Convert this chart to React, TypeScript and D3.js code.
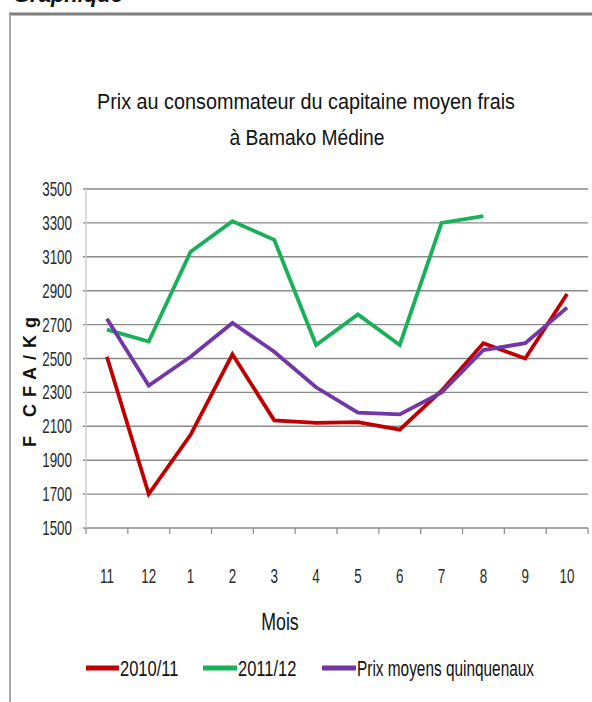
import React from "react";
import * as d3 from "d3";

const months = ["11", "12", "1", "2", "3", "4", "5", "6", "7", "8", "9", "10"];
const yTicks = [1500, 1700, 1900, 2100, 2300, 2500, 2700, 2900, 3100, 3300, 3500];
const series2010: (number | null)[] = [2510, 1700, 2050, 2525, 2135, 2120, 2125, 2080, 2310, 2590, 2500, 2880];
const series2011: (number | null)[] = [2670, 2600, 3130, 3310, 3200, 2580, 2760, 2580, 3300, 3340, null, null];
const seriesAvg: (number | null)[] = [2735, 2340, 2510, 2710, 2540, 2330, 2180, 2170, 2300, 2550, 2590, 2800];
const seriesNames = ["2010/11", "2011/12", "Prix moyens quinquenaux"];
const seriesColors = ["#C00000", "#18B058", "#7236A6"];

const W = 592;
const H = 702;
const sans = "'Liberation Sans', Arial, sans-serif";

function NText(props: {
  x: number;
  y: number;
  sx: number;
  size: number;
  anchor?: string;
  children: React.ReactNode;
  fill?: string;
}) {
  const { x, y, sx, size, anchor, children, fill } = props;
  return (
    <text
      transform={`translate(${x},${y}) scale(${sx},1)`}
      textAnchor={anchor || "start"}
      fontFamily={sans}
      fontSize={size}
      fill={fill || "#1a1a1a"}
    >
      {children}
    </text>
  );
}

export default function App() {
  const x = d3.scaleBand<string>().domain(months).range([86, 588]);
  const y = d3.scaleLinear().domain([1500, 3500]).range([528, 189]);
  const line = d3
    .line<number | null>()
    .defined((d) => d !== null)
    .x((_, i) => (x(months[i]) as number) + x.bandwidth() / 2)
    .y((d) => y(d as number));
  const all = [series2010, series2011, seriesAvg];
  const tickXs = months.map((m) => x(m) as number).concat([588]);
  const legendItems = [
    { lx: 86, tx: 119 },
    { lx: 203, tx: 237 },
    { lx: 322, tx: 356 },
  ];
  return (
    <svg width={W} height={H} style={{ position: "absolute", left: 0, top: 0, background: "#fff" }}>
      <rect x={0} y={0} width={W} height={H} fill="#fff" />
      <text x={13} y={2} fontFamily={sans} fontWeight="bold" fontStyle="italic" fontSize={22} fill="#111">
        Graphique
      </text>
      <line x1={9} y1={14} x2={592} y2={14} stroke="#7f7f7f" strokeWidth={3} />
      <line x1={10} y1={14} x2={10} y2={702} stroke="#a8a8a8" strokeWidth={2} />
      <text x={306} y={109} textAnchor="middle" fontFamily={sans} fontSize={22} fill="#111" textLength={418} lengthAdjust="spacingAndGlyphs">
        Prix au consommateur du capitaine moyen frais
      </text>
      <text x={307} y={145} textAnchor="middle" fontFamily={sans} fontSize={22} fill="#111" textLength={155} lengthAdjust="spacingAndGlyphs">
        à Bamako Médine
      </text>
      {yTicks.map((t) => (
        <g key={t}>
          <line x1={83} x2={588} y1={y(t)} y2={y(t)} stroke="#8a8a8a" strokeWidth={1.4} />
          <NText x={72} y={y(t) + 7} sx={0.67} size={20} anchor="end" fill="#2a2a2a">
            {t}
          </NText>
        </g>
      ))}
      <line x1={86} x2={86} y1={189} y2={528} stroke="#d0d0d0" strokeWidth={1.5} />
      {tickXs.map((tx, i) => (
        <line key={i} x1={tx} x2={tx} y1={528} y2={534} stroke="#8a8a8a" strokeWidth={1.2} />
      ))}
      {months.map((m) => (
        <NText key={m} x={(x(m) as number) + x.bandwidth() / 2} y={583} sx={0.64} size={21} anchor="middle" fill="#2a2a2a">
          {m}
        </NText>
      ))}
      <text
        transform="translate(36,382) rotate(-90)"
        textAnchor="middle"
        fontFamily={sans}
        fontWeight="bold"
        fontSize={18}
        textLength={130}
        lengthAdjust="spacing"
        fill="#111"
      >
        F CFA/Kg
      </text>
      {all.map((s, i) => (
        <path key={i} d={line(s) || ""} fill="none" stroke={seriesColors[i]} strokeWidth={3.8} strokeLinejoin="miter" />
      ))}
      <NText x={280} y={630} sx={0.74} size={24} anchor="middle" fill="#111">
        Mois
      </NText>
      {seriesNames.map((n, i) => (
        <g key={n}>
          <line x1={legendItems[i].lx} x2={legendItems[i].tx} y1={668} y2={668} stroke={seriesColors[i]} strokeWidth={5} />
          <NText x={legendItems[i].tx + 1} y={676} sx={i === 2 ? 0.7 : 0.75} size={22} fill="#111">
            {n}
          </NText>
        </g>
      ))}
    </svg>
  );
}
